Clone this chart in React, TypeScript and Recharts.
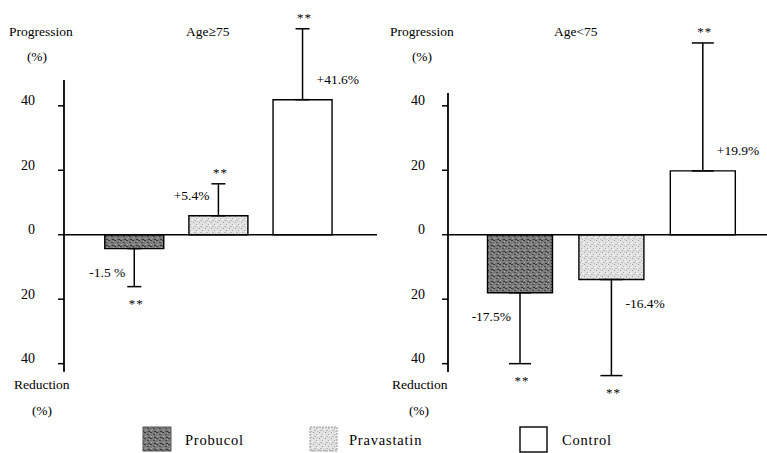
import React from 'react';
import { BarChart, Bar, XAxis, YAxis, ErrorBar, ReferenceLine, LabelList, Cell } from 'recharts';

const groups = ['Probucol', 'Pravastatin', 'Control'];
const yTicks = [-40, -20, 0, 20, 40];

// Age >= 75 : bar heights as drawn and where each whisker ends
const oldValues = [-4.3, 5.9, 41.9];
const oldErrorEnds = [-16.1, 15.8, 63.9];
const oldLabels = ['-1.5 %', '+5.4%', '+41.6%'];

// Age < 75
const youngValues = [-18.0, -13.9, 19.8];
const youngErrorEnds = [-40.0, -43.7, 59.5];
const youngLabels = ['-17.5%', '-16.4%', '+19.9%'];

const FONT = '"Liberation Serif", "DejaVu Serif", serif';
const fills = ['url(#probucol)', 'url(#pravastatin)', '#ffffff'];

const buildRows = (values: number[], ends: number[]) =>
  groups.map((name, i) => ({
    x: i + 1,
    name,
    value: values[i],
    err: values[i] < 0 ? [values[i] - ends[i], 0] : [0, ends[i] - values[i]],
  }));

const Tick = (props: any) => {
  const { x, y, payload } = props;
  return (
    <text x={x} y={y - 5} textAnchor="end" dominantBaseline="central" fontSize={14} fontFamily={FONT} fill="#000">
      {Math.abs(payload.value)}
    </text>
  );
};

const makeLabel = (labels: string[], ends: number[], sides: string[]) => (props: any) => {
  const { x, y, width, height, value } = props;
  let index = props.index;
  if (index === undefined) index = 0;
  const v = Number(value);
  const top = Math.min(y, y + height);
  const bot = Math.max(y, y + height);
  const yv = v < 0 ? bot : top;
  const y0 = v < 0 ? top : bot;
  const k = (y0 - yv) / v;
  const errY = y0 - k * ends[index];
  const cx = x + width / 2;
  const side = sides[index];
  const ly = v < 0 ? yv + 24 : yv - 20;
  const lx = side === 'left' ? cx - 9 : cx + 14;
  const sy = v < 0 ? errY + 14 : errY - 14;
  return (
    <g>
      <text x={lx} y={ly} textAnchor={side === 'left' ? 'end' : 'start'} dominantBaseline="central"
        fontSize={13.5} fontFamily={FONT} fill="#000">
        {labels[index]}
      </text>
      <text x={cx + 2} y={sy + 3} textAnchor="middle" dominantBaseline="central"
        fontSize={13} fontFamily={FONT} fill="#000" letterSpacing={1}>
        **
      </text>
    </g>
  );
};

type PanelProps = {
  left: number;
  width: number;
  values: number[];
  ends: number[];
  labels: string[];
  sides: string[];
  xDomain: [number, number];
  axisTop: number;
  axisBottom: number;
  yAxisWidth: number;
  tickMargin: number;
  barSize: number;
  capWidth: number;
};

const Panel = (p: PanelProps) => {
  const rows = buildRows(p.values, p.ends);
  return (
    <div style={{ position: 'absolute', left: p.left, top: 0 }}>
      <BarChart width={p.width} height={453} data={rows} margin={{ top: 22, right: 0, bottom: 70, left: 0 }}>
        <XAxis dataKey="x" type="number" domain={p.xDomain} hide />
        <YAxis
          domain={[-46, 66]}
          ticks={yTicks}
          width={p.yAxisWidth}
          axisLine={false}
          tickLine={{ stroke: '#000', strokeWidth: 1.5 }}
          tickSize={6}
          tickMargin={p.tickMargin}
          tick={<Tick />}
        />
        <Bar dataKey="value" barSize={p.barSize} stroke="#000" strokeWidth={1.4} isAnimationActive={false}>
          {rows.map((r, i) => (
            <Cell key={r.name} fill={fills[i]} />
          ))}
          <ErrorBar dataKey="err" width={p.capWidth} stroke="#000" strokeWidth={1.5} direction="y" />
          <LabelList dataKey="value" content={makeLabel(p.labels, p.ends, p.sides)} />
        </Bar>
        <ReferenceLine y={0} stroke="#000" strokeWidth={1.5} />
        <ReferenceLine
          ifOverflow="visible"
          segment={[
            { x: p.xDomain[0], y: p.axisTop },
            { x: p.xDomain[0], y: p.axisBottom },
          ]}
          stroke="#000"
          strokeWidth={1.8}
        />
      </BarChart>
    </div>
  );
};

const T = (props: any) => (
  <text dominantBaseline="central" fontSize={13.5} fontFamily={FONT} fill="#000" {...props} />
);

export default function App() {
  return (
    <div style={{ position: 'absolute', left: 0, top: 0, width: 767, height: 453, background: '#fff', overflow: 'hidden' }}>
      <svg width={0} height={0} style={{ position: 'absolute' }}>
        <defs>
          <pattern id="probucol" width={6} height={6} patternUnits="userSpaceOnUse">
            <rect width={6} height={6} fill="#7a7a7a" />
            <rect x={0} y={0} width={2} height={1} fill="#3a3a3a" />
            <rect x={3} y={2} width={2} height={1} fill="#4a4a4a" />
            <rect x={1} y={4} width={1} height={1} fill="#b5b5b5" />
            <rect x={4} y={5} width={2} height={1} fill="#333" />
            <rect x={5} y={1} width={1} height={1} fill="#a8a8a8" />
            <rect x={2} y={3} width={1} height={1} fill="#999" />
          </pattern>
          <pattern id="pravastatin" width={6} height={6} patternUnits="userSpaceOnUse">
            <rect width={6} height={6} fill="#e2e2e2" />
            <rect x={1} y={0} width={1} height={1} fill="#9a9a9a" />
            <rect x={4} y={2} width={1} height={1} fill="#aaaaaa" />
            <rect x={2} y={4} width={2} height={1} fill="#b8b8b8" />
            <rect x={0} y={3} width={1} height={1} fill="#f8f8f8" />
            <rect x={5} y={5} width={1} height={1} fill="#c0c0c0" />
          </pattern>
        </defs>
      </svg>

      <Panel left={0} width={377} values={oldValues} ends={oldErrorEnds} labels={oldLabels}
        sides={['left', 'left', 'right']} xDomain={[0.17, 3.89]} axisTop={48} axisBottom={-42.5}
        yAxisWidth={64} tickMargin={23} barSize={59} capWidth={7} />
      <Panel left={385} width={382} values={youngValues} ends={youngErrorEnds} labels={youngLabels}
        sides={['left', 'right', 'right']} xDomain={[0.21, 3.7]} axisTop={44} axisBottom={-42.6}
        yAxisWidth={63} tickMargin={17} barSize={65} capWidth={11} />

      <svg width={767} height={453} style={{ position: 'absolute', left: 0, top: 0, pointerEvents: 'none' }}>
        <T x={9} y={31}>Progression</T>
        <T x={37} y={56} textAnchor="middle">(%)</T>
        <T x={186} y={31}>Age≥75</T>
        <T x={14} y={384}>Reduction</T>
        <T x={42} y={410} textAnchor="middle">(%)</T>

        <T x={390} y={31}>Progression</T>
        <T x={422} y={56} textAnchor="middle">(%)</T>
        <T x={554} y={31}>Age&lt;75</T>
        <T x={392} y={384}>Reduction</T>
        <T x={419} y={410} textAnchor="middle">(%)</T>

        <rect x={143} y={427} width={28} height={24} fill="url(#probucol)" stroke="#555" strokeWidth={1} />
        <T x={185} y={440} fontSize={14.5} letterSpacing={0.8}>{groups[0]}</T>
        <rect x={310} y={427} width={27} height={24} fill="url(#pravastatin)" stroke="#999" strokeWidth={1} strokeDasharray="2 1" />
        <T x={349} y={440} fontSize={14.5} letterSpacing={0.8}>{groups[1]}</T>
        <rect x={520} y={427} width={27} height={25} fill="#fff" stroke="#000" strokeWidth={1.4} />
        <T x={562} y={440} fontSize={14.5} letterSpacing={0.8}>{groups[2]}</T>
      </svg>
    </div>
  );
}
